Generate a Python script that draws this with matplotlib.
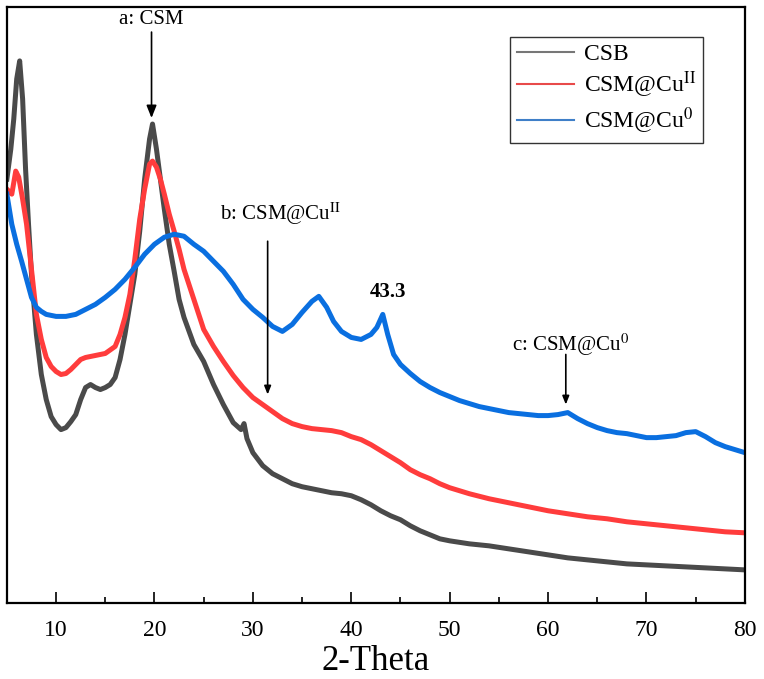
import matplotlib
matplotlib.use("Agg")
import matplotlib.pyplot as plt
from matplotlib.ticker import MultipleLocator

plt.rcParams["font.family"] = ["Liberation Serif", "DejaVu Serif"]
plt.rcParams["mathtext.fontset"] = "stix"

# ── Data (arbitrary intensity units) ─────────────────────────────────────────
csb_2theta = [5.0, 5.4, 5.7, 6.0, 6.3, 6.6, 6.9, 7.2, 7.5, 8.0, 8.5, 9.0, 9.5, 10.0,
              10.5, 11.0, 11.5, 12.0, 12.5, 13.0, 13.5, 14.0, 14.5, 15.0, 15.5, 16.0,
              16.5, 17.0, 17.5, 18.0, 18.5, 19.0, 19.5, 19.8, 20.2, 20.6, 21.0, 21.5,
              22.0, 22.5, 23.0, 24.0, 25.0, 26.0, 27.0, 28.0, 28.8, 29.1, 29.4, 30.0,
              31.0, 32.0, 33.0, 34.0, 35.0, 36.0, 37.0, 38.0, 39.0, 40.0, 41.0, 42.0,
              43.0, 44.0, 45.0, 46.0, 47.0, 48.0, 49.0, 50.0, 52.0, 54.0, 56.0, 58.0,
              60.0, 62.0, 64.0, 66.0, 68.0, 70.0, 72.0, 74.0, 76.0, 78.0, 80.0]
csb_int = [423, 453, 483, 523, 541, 503, 433, 378, 328, 268, 228, 203, 186, 178,
           173, 175, 181, 188, 203, 215, 218, 215, 213, 215, 218, 225,
           243, 268, 298, 328, 371, 423, 463, 478, 453, 423, 393, 358,
           331, 303, 285, 258, 241, 218, 198, 180, 173, 179, 164, 150,
           137, 129, 124, 119, 116, 114, 112, 110, 109, 107, 103, 98,
           92, 87, 83, 77, 72, 68, 64, 62, 59, 57, 54, 51,
           48, 45, 43, 41, 39, 38, 37, 36, 35, 34, 33]

cu2_2theta = [5.0, 5.5, 5.9, 6.2, 6.6, 7.0, 7.5, 8.0, 8.5, 9.0, 9.5, 10.0, 10.5, 11.0,
              11.5, 12.0, 12.5, 13.0, 14.0, 15.0, 16.0, 16.5, 17.0, 17.5, 18.0, 18.5,
              19.0, 19.5, 19.8, 20.2, 20.6, 21.0, 21.5, 22.0, 22.5, 23.0, 24.0, 25.0,
              26.0, 27.0, 28.0, 29.0, 30.0, 31.0, 32.0, 33.0, 34.0, 35.0, 36.0, 37.0,
              38.0, 39.0, 40.0, 41.0, 42.0, 43.0, 44.0, 45.0, 46.0, 47.0, 48.0, 49.0,
              50.0, 52.0, 54.0, 56.0, 58.0, 60.0, 62.0, 64.0, 66.0, 68.0, 70.0, 72.0,
              74.0, 76.0, 78.0, 80.0]
cu2_int = [413, 408, 431, 425, 403, 378, 333, 288, 263, 245, 236, 231, 228, 229,
           233, 238, 243, 245, 247, 249, 256, 268, 285, 308, 343, 383,
           413, 438, 441, 435, 423, 408, 388, 371, 353, 333, 303, 273,
           256, 241, 227, 215, 205, 198, 191, 184, 179, 176, 174, 173,
           172, 170, 166, 163, 158, 152, 146, 140, 133, 128, 124, 119,
           115, 109, 104, 100, 96, 92, 89, 86, 84, 81, 79, 77,
           75, 73, 71, 70]

cu0_2theta = [5.0, 5.5, 6.0, 6.5, 7.0, 7.5, 8.0, 8.5, 9.0, 10.0, 11.0, 12.0, 13.0,
              14.0, 15.0, 16.0, 17.0, 18.0, 19.0, 20.0, 21.0, 22.0, 23.0, 24.0, 25.0,
              26.0, 27.0, 28.0, 29.0, 30.0, 31.0, 32.0, 33.0, 34.0, 35.0, 36.0, 36.7,
              37.5, 38.2, 39.0, 40.0, 41.0, 42.0, 42.6, 43.2, 43.7, 44.3, 45.0, 46.0,
              47.0, 48.0, 49.0, 50.0, 51.0, 52.0, 53.0, 54.0, 55.0, 56.0, 57.0, 58.0,
              59.0, 60.0, 61.0, 62.0, 63.0, 64.0, 65.0, 66.0, 67.0, 68.0, 69.0, 70.0,
              71.0, 72.0, 73.0, 74.0, 75.0, 76.0, 77.0, 78.0, 79.0, 80.0]
cu0_int = [408, 378, 358, 341, 323, 305, 295, 291, 288, 286, 286, 288, 293,
           298, 305, 313, 323, 335, 348, 358, 365, 368, 366, 358, 351,
           341, 331, 318, 303, 293, 285, 276, 271, 278, 290, 301, 306,
           295, 281, 271, 265, 263, 268, 275, 288, 268, 248, 238, 229,
           221, 215, 210, 206, 202, 199, 196, 194, 192, 190, 189, 188,
           187, 187, 188, 190, 184, 179, 175, 172, 170, 169, 167, 165,
           165, 166, 167, 170, 171, 166, 160, 156, 153, 150]

x_ticks = [10, 20, 30, 40, 50, 60, 70, 80]

# ── Colours ──────────────────────────────────────────────────────────────────
COLOR_CSB = "#4a4a4a"
COLOR_CU2 = "#ff3c3c"
COLOR_CU0 = "#0a6fe0"

# ── Plot ─────────────────────────────────────────────────────────────────────
fig = plt.figure(figsize=(7.64, 6.79), dpi=100)
ax = fig.add_axes([0.009, 0.112, 0.966, 0.878])

ax.plot(csb_2theta, csb_int, color=COLOR_CSB, linewidth=3.6, label="CSB")
ax.plot(cu2_2theta, cu2_int, color=COLOR_CU2, linewidth=3.6, label=r"CSM@Cu$^{\mathrm{II}}$")
ax.plot(cu0_2theta, cu0_int, color=COLOR_CU0, linewidth=3.6, label=r"CSM@Cu$^{0}$")

ax.set_xlim(5, 80)
ax.set_ylim(0, 595)
ax.set_xticks(x_ticks)
ax.xaxis.set_minor_locator(MultipleLocator(5))
ax.set_yticks([])
ax.tick_params(axis="x", which="major", direction="in", length=8, width=1.2,
               labelsize=17, pad=12)
ax.tick_params(axis="x", which="minor", direction="in", length=4, width=1.2)
for sp in ax.spines.values():
    sp.set_linewidth(1.6)

ax.set_xlabel("2-Theta", fontsize=25, labelpad=3)

# annotations
arrow = dict(arrowstyle="-|>,head_length=0.5,head_width=0.2", color="black", lw=1.2,
             shrinkA=0, shrinkB=0)
ax.annotate("a: CSM", xy=(19.7, 484), xytext=(19.7, 582), ha="center", va="center",
            fontsize=15, arrowprops=arrow)
ax.annotate("", xy=(31.5, 208), xytext=(31.5, 361), arrowprops=arrow)
ax.text(32.8, 388, r"b: CSM@Cu$^{\mathrm{II}}$", ha="center", va="center", fontsize=15)
ax.text(43.7, 310, "43.3", ha="center", va="center", fontsize=15, fontweight="bold")
ax.annotate("", xy=(61.8, 198), xytext=(61.8, 248), arrowprops=arrow)
ax.text(62.3, 258, r"c: CSM@Cu$^{0}$", ha="center", va="center", fontsize=15)

# legend with thin handles
leg = ax.legend(loc="upper right", bbox_to_anchor=(0.943, 0.95), borderaxespad=0,
                fontsize=17, frameon=True, fancybox=False, framealpha=1,
                edgecolor="#333333", handlelength=2.4, labelspacing=0.2,
                handletextpad=0.4, borderpad=0.3)
leg.get_frame().set_linewidth(1.0)
for h, c in zip(leg.get_lines(), ["#777777", "#e84a4a", "#3f7fc8"]):
    h.set_linewidth(1.5)
    h.set_color(c)

fig.savefig("out.png", dpi=100)
